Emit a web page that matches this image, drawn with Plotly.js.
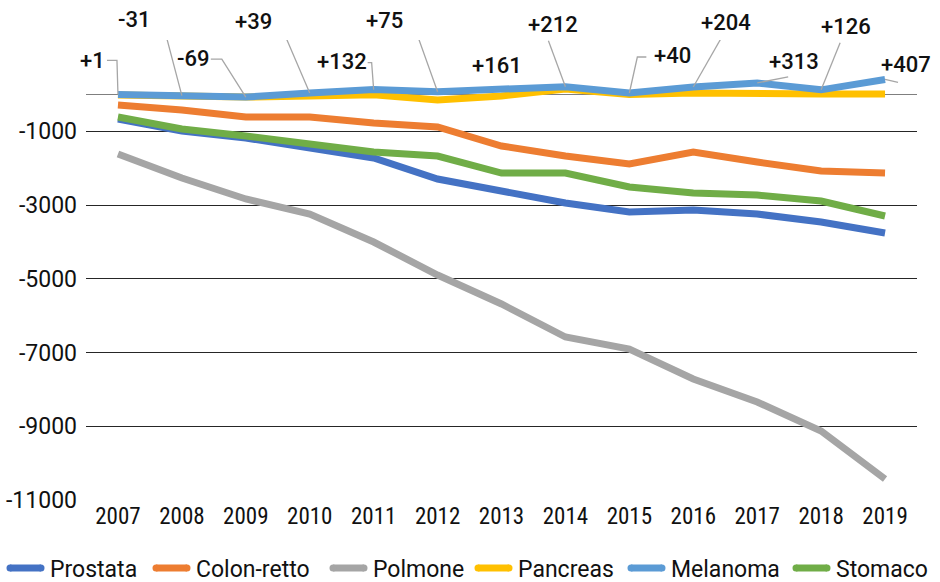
<!DOCTYPE html>
<html>
<head>
<meta charset="utf-8">
<script src="https://cdn.plot.ly/plotly-3.0.1.min.js"></script>
<style>
  html, body { margin: 0; padding: 0; background: #ffffff; }
  #chart { width: 940px; height: 582px; }
</style>
</head>
<body>
<div id="chart"></div>
<script>
// Variazione del numero di decessi rispetto al 2006, per sede tumorale
const years = [2007, 2008, 2009, 2010, 2011, 2012, 2013, 2014, 2015, 2016, 2017, 2018, 2019];
const yearLabels = years.map(String);

const prostata   = [-665, -990, -1180, -1451, -1723, -2292, -2618, -2944, -3188, -3133, -3242, -3459, -3757];
const colonRetto = [-285, -421, -610, -610, -773, -882, -1397, -1669, -1886, -1560, -1832, -2075, -2130];
const polmone    = [-1614, -2265, -2835, -3242, -4002, -4897, -5683, -6579, -6904, -7718, -8342, -9129, -10431];
const pancreas   = [-15, -40, -70, -40, -10, -150, -40, 150, 0, 40, 10, 10, 10];
const melanoma   = [1, -31, -69, 39, 132, 75, 161, 212, 40, 204, 313, 126, 407];
const stomaco    = [-610, -936, -1126, -1343, -1560, -1669, -2130, -2130, -2510, -2672, -2727, -2889, -3296];

const yTicks = [-1000, -3000, -5000, -7000, -9000, -11000];

const seriesNames = ['Prostata', 'Colon-retto', 'Polmone', 'Pancreas', 'Melanoma', 'Stomaco'];
const seriesData  = [prostata, colonRetto, polmone, pancreas, melanoma, stomaco];
const seriesColors = ['#4472C4', '#ED7D31', '#A5A5A5', '#FFC000', '#5B9BD5', '#70AD47'];

const traces = seriesNames.map((name, k) => ({
  type: 'scatter',
  mode: 'lines',
  name: name,
  x: years,
  y: seriesData[k],
  line: { color: seriesColors[k], width: 7 },
  showlegend: false,
  hoverinfo: 'skip'
}));

// Plot-area geometry (px) used to place the legend row below the chart
const W = 940, H = 582;
const M = { l: 86, r: 23, t: 40, b: 82 };
const plotW = W - M.l - M.r, plotH = H - M.t - M.b;
const px2paperX = px => (px - M.l) / plotW;
const px2paperY = py => (H - M.b - py) / plotH;

// Legend row: start x of each key line (px), key length, text gap, row y
const legendKeyX = [7, 153, 330, 475, 628, 793];
const legendKeyLen = 37, legendTextGap = 4, legendRowY = 569;

// Melanoma value labels: text offset from the point (px, screen-down positive)
// and leader-line vertices (px, relative to the point, screen-down positive).
const labelOffsets = [
  [-25, -34], [-48, -76], [-53, -39], [-56, -72], [-32, -28], [-53, -71], [-5, -23],
  [-12, -62], [43, -38], [33, -64], [37, -21], [25, -63], [21, -15]
];
const leaders = [
  [[-11, -34], [-1, -34]],
  [[-30, -76], [-20, -76]],
  [[-35, -38], [-24, -38]],
  [[-38, -70], [-30, -70]],
  [[-6, -27], [-2, -27]],
  [[-33, -70], [-25, -70]],
  null,
  [[-17, -46]],
  [[17, -36], [8, -36]],
  [[28, -49]],
  [[31, -6]],
  [[19, -47]],
  [[13, 3]]
];

const fmt = v => (v > 0 ? '+' : '') + v;

const annotations = melanoma.map((v, i) => ({
  x: years[i], y: v, xref: 'x', yref: 'y',
  text: fmt(v),
  showarrow: false,
  xshift: labelOffsets[i][0],
  yshift: -labelOffsets[i][1],
  font: { family: 'Roboto, "Open Sans", sans-serif', size: 22, weight: 500, color: '#111111' }
}));

const shapes = [];
melanoma.forEach((v, i) => {
  const pts = leaders[i];
  if (!pts) return;
  let d = '';
  pts.forEach((p, j) => { d += (j === 0 ? 'M' : 'L') + p[0] + ',' + (-p[1]) + ' '; });
  d += 'L0,0';
  shapes.push({
    type: 'path', layer: 'above',
    xref: 'x', yref: 'y',
    xsizemode: 'pixel', ysizemode: 'pixel',
    xanchor: years[i], yanchor: v,
    path: d,
    line: { color: '#A6A6A6', width: 1.3 }
  });
});

// Legend keys and names
seriesNames.forEach((name, k) => {
  const x0 = legendKeyX[k];
  shapes.push({
    type: 'line', xref: 'paper', yref: 'paper',
    x0: px2paperX(x0 + 3), x1: px2paperX(x0 + legendKeyLen - 3),
    y0: px2paperY(legendRowY - 1), y1: px2paperY(legendRowY - 1),
    line: { color: seriesColors[k], width: 7 }
  });
  // rounded ends of the key line
  [x0 + 3, x0 + legendKeyLen - 3].forEach(cx => {
    shapes.push({
      type: 'circle', xref: 'paper', yref: 'paper',
      xsizemode: 'pixel', ysizemode: 'pixel',
      xanchor: px2paperX(cx), yanchor: px2paperY(legendRowY - 1),
      x0: -3.5, x1: 3.5, y0: -3.5, y1: 3.5,
      fillcolor: seriesColors[k], line: { width: 0 }
    });
  });
  annotations.push({
    xref: 'paper', yref: 'paper',
    x: px2paperX(x0 + legendKeyLen + legendTextGap), y: px2paperY(legendRowY),
    xanchor: 'left', yanchor: 'middle',
    text: name, showarrow: false,
    font: { family: 'Roboto, sans-serif', size: 23, color: '#111111' }
  });
});

const layout = {
  width: W, height: H,
  paper_bgcolor: '#ffffff', plot_bgcolor: '#ffffff',
  margin: { l: M.l, r: M.r, t: M.t, b: M.b, autoexpand: false },
  showlegend: false,
  xaxis: {
    range: [2006.5, 2019.5],
    tickvals: years, ticktext: yearLabels,
    showgrid: false, zeroline: false, showline: false, ticks: '',
    tickfont: { family: '"Liberation Sans Narrow", "Roboto Condensed", "DejaVu Sans Condensed", sans-serif', size: 23, color: '#111111' },
    fixedrange: true
  },
  yaxis: {
    range: [-11000, 1478],
    tickvals: yTicks, ticktext: yTicks.map(String),
    showgrid: true, gridcolor: '#262626', gridwidth: 1,
    zeroline: true, zerolinecolor: '#7f7f7f', zerolinewidth: 1.3,
    showline: false, ticks: '', ticklabelstandoff: 8,
    tickfont: { family: 'Roboto, sans-serif', size: 23, color: '#111111' },
    fixedrange: true
  },
  annotations: annotations,
  shapes: shapes
};

Plotly.newPlot('chart', traces, layout, { displayModeBar: false, staticPlot: true });
</script>
</body>
</html>
